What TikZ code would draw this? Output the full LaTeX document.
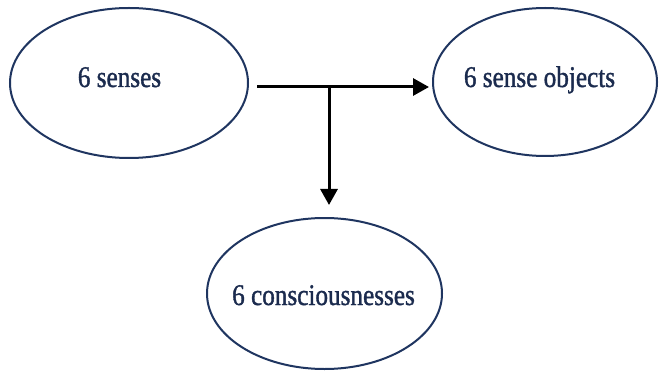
\documentclass[tikz,border=0pt]{standalone}
\usepackage{fontspec}
\setmainfont{Liberation Serif}[FakeStretch=0.84]
\newfontfamily\lblfont{Liberation Serif}[FakeStretch=0.84,FakeBold=1.2]
\usetikzlibrary{shapes.geometric,arrows.meta}
\definecolor{navy}{HTML}{1F3560}
\definecolor{txt}{HTML}{1B2B4E}
\tikzset{
  oval/.style={ellipse,draw=navy,line width=2pt,inner sep=0pt},
  lbl/.style={text=txt,font=\lblfont\fontsize{30}{30}\selectfont,inner sep=0pt},
  conn/.style={line width=3pt,-{Triangle[length=16pt,width=17pt]}}
}
\begin{document}
\begin{tikzpicture}[x=1pt,y=-1pt]
\useasboundingbox (0,0) rectangle (660,371);
\node[oval,minimum width=238pt,minimum height=150pt] (s) at (129,83) {};
\node[oval,minimum width=224pt,minimum height=148pt] (o) at (545,82) {};
\node[oval,minimum width=235pt,minimum height=151pt] (c) at (324.5,293.5) {};
\node[lbl,anchor=base] (ts) at (119.5,87) {6 senses};
\node[lbl,anchor=base] (to) at (539.5,87) {6 sense objects};
\node[lbl,anchor=base] (tc) at (323.5,305) {6 consciousnesses};
\coordinate (st) at (257,87);
\coordinate (j) at (329,87);
\draw[line width=3pt] (st) -- (j);
\draw[conn,shorten >=3pt] (j) -- (o.west |- j);
\draw[conn,shorten >=12pt] (j) -- (j |- c.north);
\end{tikzpicture}
\end{document}
